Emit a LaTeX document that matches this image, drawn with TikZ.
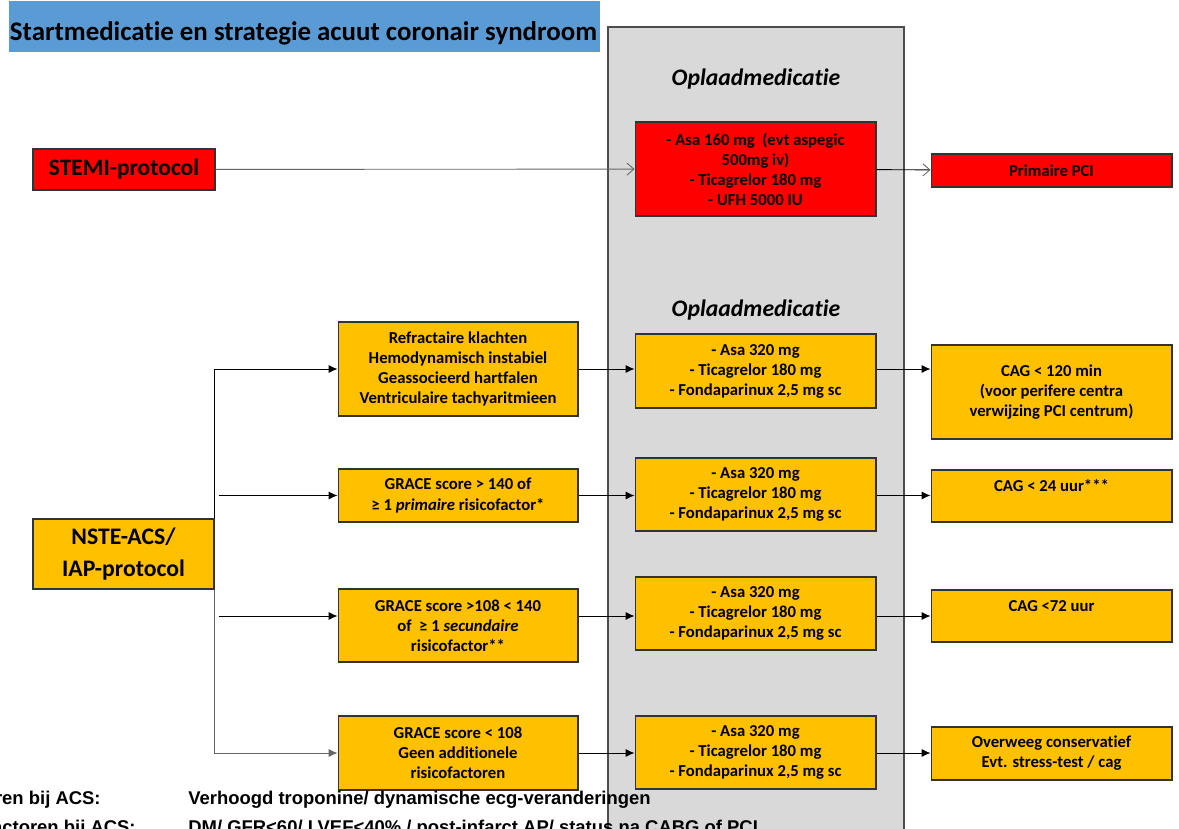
\documentclass[tikz,border=0pt]{standalone}
\usepackage{fontspec}
\setmainfont[Ligatures=NoCommon]{Carlito}
\newfontfamily\narrowfont{Liberation Sans}
\usetikzlibrary{arrows.meta}
\definecolor{titleblue}{RGB}{91,155,213}
\definecolor{panelgray}{RGB}{217,217,217}
\definecolor{amber}{RGB}{255,192,0}
\definecolor{stemired}{RGB}{255,0,0}

\tikzset{
  box/.style={draw=black!80, line width=0.6pt, align=center, inner sep=0pt,
    font=\fontsize{9.5}{11.4}\selectfont\bfseries},
  redbox/.style={box, fill=stemired},
  ambox/.style={box, fill=amber},
  arr/.style={line width=0.5pt, -{Latex[length=5pt,width=4.5pt]}},
  openarr/.style={line width=0.5pt, -{Straight Barb[length=4pt,width=7pt,color=black!60]}},
  legend/.style={font=\narrowfont\fontsize{10.5}{12}\selectfont\bfseries, inner sep=0pt},
}

\begin{document}
\begin{tikzpicture}[x=0.02cm, y=-0.02cm]
    \clip (0,0) rectangle (1179,828);
    \fill[white] (0,0) rectangle (1179,828);
    % grey panel with the loading medication
    \draw[fill=panelgray, draw=black!70, line width=0.6pt] (608,27) rectangle (904,850);
    \node[fill=titleblue, minimum width=11.82cm, minimum height=1.02cm, inner sep=0pt] (title) at (304.5,26.5) {};
    \node[font=\fontsize{15.3}{17}\selectfont\bfseries] (titletext) at (303.5,33)
      {Startmedicatie en strategie acuut coronair syndroom};
    \node[font=\fontsize{13.5}{15}\selectfont\bfseries\itshape] (opl1) at (756,79) {Oplaadmedicatie};
    \node[font=\fontsize{13.5}{15}\selectfont\bfseries\itshape] (opl2) at (756,310) {Oplaadmedicatie};

    % STEMI
    \node[redbox, minimum width=3.64cm, minimum height=0.82cm,
      font=\fontsize{13.4}{15}\selectfont\bfseries] (stemi) at (124,169.5) {STEMI-protocol};
    \node[redbox, minimum width=4.82cm, minimum height=1.88cm] (medA) at (755.5,169)
      {- Asa 160 mg~~(evt aspegic\\500mg iv)\\- Ticagrelor 180 mg\\- UFH 5000 IU};
    \node[redbox, minimum width=4.82cm, minimum height=0.66cm] (pci) at (1051.5,170.5) {Primaire PCI};
    \draw[openarr, black!60] (stemi) -- (medA);
    \draw[openarr] (medA) -- (pci);

    % NSTE-ACS
    \node[ambox, minimum width=3.62cm, minimum height=1.40cm,
      font=\fontsize{13.5}{18}\selectfont\bfseries] (nste) at (123.5,554) {NSTE-ACS/\\IAP-protocol};

    \node[ambox, minimum width=4.8cm, minimum height=1.88cm] (crit1) at (458,369)
      {Refractaire klachten\\Hemodynamisch instabiel\\Geassocieerd hartfalen\\Ventriculaire tachyaritmieen};
    \node[ambox, minimum width=4.8cm, minimum height=1.06cm] (crit2) at (458,495.5)
      {GRACE score > 140 of\\≥ 1 \textit{primaire} risicofactor*};
    \node[ambox, minimum width=4.8cm, minimum height=1.46cm] (crit3) at (458,625.5)
      {GRACE score >108 < 140\\of~~≥ 1 \textit{secundaire}\\risicofactor**};
    \node[ambox, minimum width=4.8cm, minimum height=1.48cm] (crit4) at (458,753)
      {GRACE score < 108\\Geen additionele\\risicofactoren};

    \node[ambox, minimum width=4.82cm, minimum height=1.48cm] (med1) at (755.5,371)
      {- Asa 320 mg\\- Ticagrelor 180 mg\\- Fondaparinux 2,5 mg sc};
    \node[ambox, minimum width=4.82cm, minimum height=1.46cm] (med2) at (755.5,494.5)
      {- Asa 320 mg\\- Ticagrelor 180 mg\\- Fondaparinux 2,5 mg sc};
    \node[ambox, minimum width=4.82cm, minimum height=1.46cm] (med3) at (755.5,613.5)
      {- Asa 320 mg\\- Ticagrelor 180 mg\\- Fondaparinux 2,5 mg sc};
    \node[ambox, minimum width=4.82cm, minimum height=1.46cm] (med4) at (755.5,752.5)
      {- Asa 320 mg\\- Ticagrelor 180 mg\\- Fondaparinux 2,5 mg sc};

    \node[ambox, minimum width=4.82cm, minimum height=1.88cm] (out1) at (1051.5,392)
      {CAG < 120 min\\(voor perifere centra\\verwijzing PCI centrum)};
    \node[ambox, minimum width=4.82cm, minimum height=1.04cm] (out2) at (1051.5,496)
      {CAG < 24 uur***\\~};
    \node[ambox, minimum width=4.82cm, minimum height=1.04cm] (out3) at (1051.5,616)
      {CAG <72 uur\\~};
    \node[ambox, minimum width=4.82cm, minimum height=1.06cm] (out4) at (1051.5,753.5)
      {Overweeg conservatief\\Evt. stress-test / cag};

    % connectors
    \draw[arr] (nste.north east) |- (crit1.west);
    \draw[arr] ([xshift=0.08cm]nste.east |- crit2) -- (crit2.west);
    \draw[arr] ([xshift=0.08cm]nste.east |- out3) -- (crit3.west |- out3);
    \draw[arr, draw=black!60] (nste.south east) |- (crit4.west);

    \draw[arr] (crit1.east) -- (med1.west |- crit1);
    \draw[arr] (crit2.east) -- (med2.west |- crit2);
    \draw[arr] (crit3.east |- out3) -- (med3.west |- out3);
    \draw[arr] (crit4.east) -- (med4.west |- crit4);

    \draw[arr] (med1.east |- crit1) -- (out1.west |- crit1);
    \draw[arr] (med2.east |- crit2) -- (out2.west |- crit2);
    \draw[arr] (med3.east |- out3) -- (out3.west);
    \draw[arr] (med4.east |- crit4) -- (out4.west |- crit4);

    % legend, cut off by the page
    \node[legend, anchor=east] (lab1) at (101,800) {Primaire risicofactoren bij ACS:};
    \node[legend, anchor=west] (txt1) at (188,800) {Verhoogd troponine/ dynamische ecg-veranderingen};
    \node[legend, anchor=east] (lab2) at (136,829) {Secundaire risicofactoren bij ACS:};
    \node[legend, anchor=west] (txt2) at (188,829) {DM/ GFR<60/ LVEF<40\% / post-infarct AP/ status na CABG of PCI};
\end{tikzpicture}
\end{document}
